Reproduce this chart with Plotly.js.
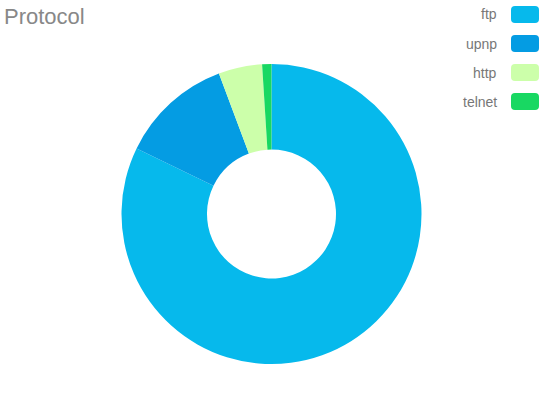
<!DOCTYPE html>
<html>
<head>
<meta charset="utf-8">
<script src="https://cdn.plot.ly/plotly-3.0.1.min.js"></script>
<style>
  html, body { margin: 0; padding: 0; background: #ffffff; }
  #chart { width: 545px; height: 393px; }
</style>
</head>
<body>
<div id="chart"></div>
<script>
// Protocol share of traffic
const protocols = ['ftp', 'upnp', 'http', 'telnet'];
const counts = [822, 121, 47, 10];
const sliceColors = ['#06B9EC', '#049CE3', '#CCFFAA', '#18D862'];

const W = 545, H = 393;
const px = x => x / W;          // pixel -> paper x
const py = y => 1 - y / H;      // pixel (from top) -> paper y

// Rounded swatch path in paper coordinates
function roundedRect(x0, y0, x1, y1, r) {
  return 'M' + px(x0 + r) + ',' + py(y0) +
    ' L' + px(x1 - r) + ',' + py(y0) +
    ' Q' + px(x1) + ',' + py(y0) + ' ' + px(x1) + ',' + py(y0 + r) +
    ' L' + px(x1) + ',' + py(y1 - r) +
    ' Q' + px(x1) + ',' + py(y1) + ' ' + px(x1 - r) + ',' + py(y1) +
    ' L' + px(x0 + r) + ',' + py(y1) +
    ' Q' + px(x0) + ',' + py(y1) + ' ' + px(x0) + ',' + py(y1 - r) +
    ' L' + px(x0) + ',' + py(y0 + r) +
    ' Q' + px(x0) + ',' + py(y0) + ' ' + px(x0 + r) + ',' + py(y0) + ' Z';
}

// Legend on the right: label, then swatch
const legendTop = 14.5, legendStep = 29;
const shapes = [];
const annotations = [];
protocols.forEach((name, i) => {
  const cy = legendTop + i * legendStep;
  shapes.push({
    type: 'path', xref: 'paper', yref: 'paper',
    path: roundedRect(511, cy - 8.5, 539, cy + 8.5, 4),
    fillcolor: sliceColors[i], line: { width: 0 }
  });
  annotations.push({
    xref: 'paper', yref: 'paper', x: px(499), y: py(cy),
    xanchor: 'right', yanchor: 'middle', showarrow: false,
    text: name, font: { family: 'Liberation Sans, Arial, sans-serif', size: 14, color: '#777777' }
  });
});

const cx = 271.5, cyPie = 214, R = 150;

const data = [{
  type: 'pie',
  labels: protocols,
  values: counts,
  marker: { colors: sliceColors, line: { width: 0 } },
  hole: 0.43,
  sort: false,
  direction: 'clockwise',
  rotation: 0,
  textinfo: 'none',
  hoverinfo: 'label+value+percent',
  domain: {
    x: [px(cx - R), px(cx + R)],
    y: [py(cyPie + R), py(cyPie - R)]
  }
}];

const layout = {
  width: W, height: H,
  margin: { l: 0, r: 0, t: 0, b: 0 },
  paper_bgcolor: '#ffffff',
  showlegend: false,
  title: {
    text: 'Protocol',
    x: px(4), xanchor: 'left', xref: 'paper',
    y: py(16.5), yanchor: 'middle', yref: 'paper',
    font: { family: 'Liberation Sans, Arial, sans-serif', size: 22, color: '#888888' }
  },
  shapes: shapes,
  annotations: annotations
};

Plotly.newPlot('chart', data, layout, { displayModeBar: false, staticPlot: true });
</script>
</body>
</html>
